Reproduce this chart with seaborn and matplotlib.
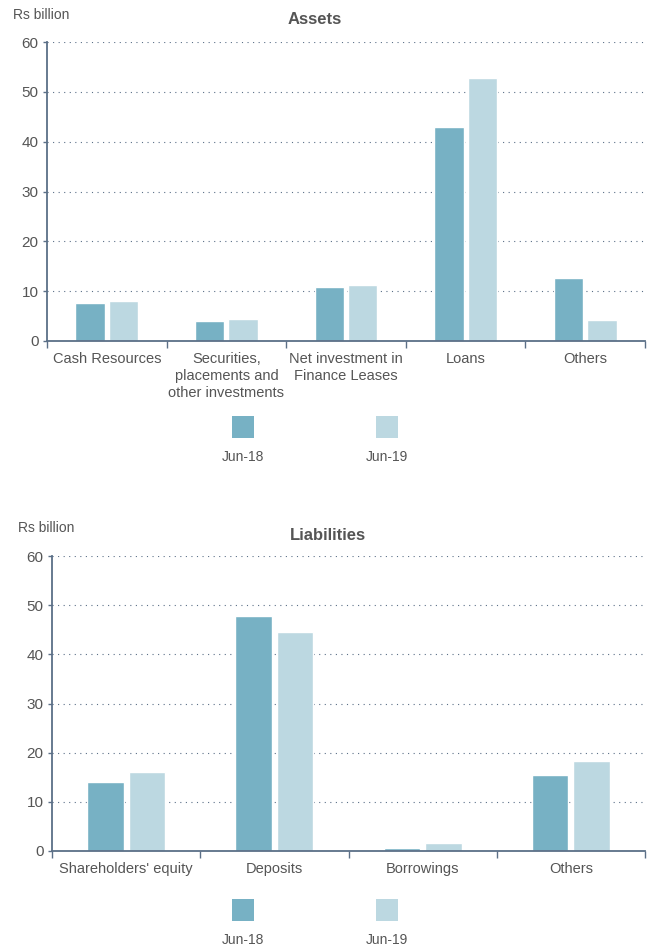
import numpy as np
import pandas as pd
import matplotlib
matplotlib.use("Agg")
import matplotlib.pyplot as plt
from matplotlib.patches import Rectangle
import seaborn as sns

# Balance sheet components, Rs billion
asset_categories = ["Cash Resources", "Securities,\nplacements and\nother investments",
                    "Net investment in\nFinance Leases", "Loans", "Others"]
assets_jun18 = [7.7, 4.0, 10.8, 43.0, 12.6]
assets_jun19 = [8.0, 4.4, 11.2, 52.8, 4.2]

liability_categories = ["Shareholders' equity", "Deposits", "Borrowings", "Others"]
liabilities_jun18 = [14.0, 47.8, 0.7, 15.5]
liabilities_jun19 = [16.1, 44.5, 1.6, 18.4]

periods = ["Jun-18", "Jun-19"]
y_ticks = [0, 10, 20, 30, 40, 50, 60]

DARK = "#77b1c4"
LIGHT = "#bcd8e1"
TEXT = "#555555"
AXIS = "#5b6f87"

sns.set_theme(style="white")
plt.rcParams["font.family"] = ["Liberation Sans", "DejaVu Sans"]

fig = plt.figure(figsize=(6.5, 9.48), dpi=100)
W, H = 650, 948


def to_frame(cats, s18, s19):
    rows = []
    for c, a, b in zip(cats, s18, s19):
        rows.append({"cat": c, "period": periods[0], "value": a})
        rows.append({"cat": c, "period": periods[1], "value": b})
    return pd.DataFrame(rows)


def panel(rect, cats, s18, s19, title, title_x, title_y, unit_xy, legend_y):
    l, t, r, b = rect
    ax = fig.add_axes([l / W, 1 - b / H, (r - l) / W, (b - t) / H])
    df = to_frame(cats, s18, s19)
    sns.barplot(data=df, x="cat", y="value", hue="period", order=cats,
                hue_order=periods, palette=[DARK, LIGHT], width=0.56, gap=0.12,
                legend=False, ax=ax, saturation=1)
    n = len(cats)
    ax.set_xlim(-0.5, n - 0.5)
    ax.set_ylim(0, 60)
    ax.set_yticks(y_ticks)
    ax.set_yticklabels([str(v) for v in y_ticks], color=TEXT, fontsize=11)
    ax.set_xticks(range(n))
    ax.set_xticklabels(cats, color=TEXT, fontsize=10.5, linespacing=1.25)
    ax.tick_params(axis="x", which="major", length=0, pad=8)
    ax.set_xticks(np.arange(-0.5, n, 1.0), minor=True)
    ax.tick_params(axis="x", which="minor", bottom=True, length=5, color=AXIS,
                   width=1, direction="out")
    ax.tick_params(axis="y", which="major", left=True, length=3, color=AXIS,
                   width=1, pad=3)
    ax.set_xlabel("")
    ax.set_ylabel("")
    for v in y_ticks[1:]:
        ax.axhline(v, color=AXIS, lw=0.8, ls=(0, (1, 4)), zorder=0)
    for s in ["top", "right"]:
        ax.spines[s].set_visible(False)
    for s in ["left", "bottom"]:
        ax.spines[s].set_color(AXIS)
        ax.spines[s].set_linewidth(1.3)
    fig.text(title_x / W, 1 - title_y / H, title, ha="center", va="center",
             fontsize=12, fontweight="bold", color=TEXT)
    fig.text(unit_xy[0] / W, 1 - unit_xy[1] / H, "Rs billion", ha="left",
             va="center", fontsize=10, color=TEXT)
    # legend: swatches above their labels
    for cx, col, lab in [(243, DARK, periods[0]), (387, LIGHT, periods[1])]:
        fig.add_artist(Rectangle(((cx - 11) / W, 1 - (legend_y + 11) / H),
                                 22 / W, 22 / H, transform=fig.transFigure,
                                 facecolor=col, edgecolor="none"))
        fig.text(cx / W, 1 - (legend_y + 30) / H, lab, ha="center", va="center",
                 fontsize=10, color=TEXT)
    return ax


panel((47, 42, 645, 341), asset_categories, assets_jun18, assets_jun19,
      "Assets", 315, 20, (13, 15), 427)
panel((52, 556, 645, 851), liability_categories, liabilities_jun18, liabilities_jun19,
      "Liabilities", 328, 535, (18, 528), 910)

fig.savefig("out.png", dpi=100, facecolor="white")
